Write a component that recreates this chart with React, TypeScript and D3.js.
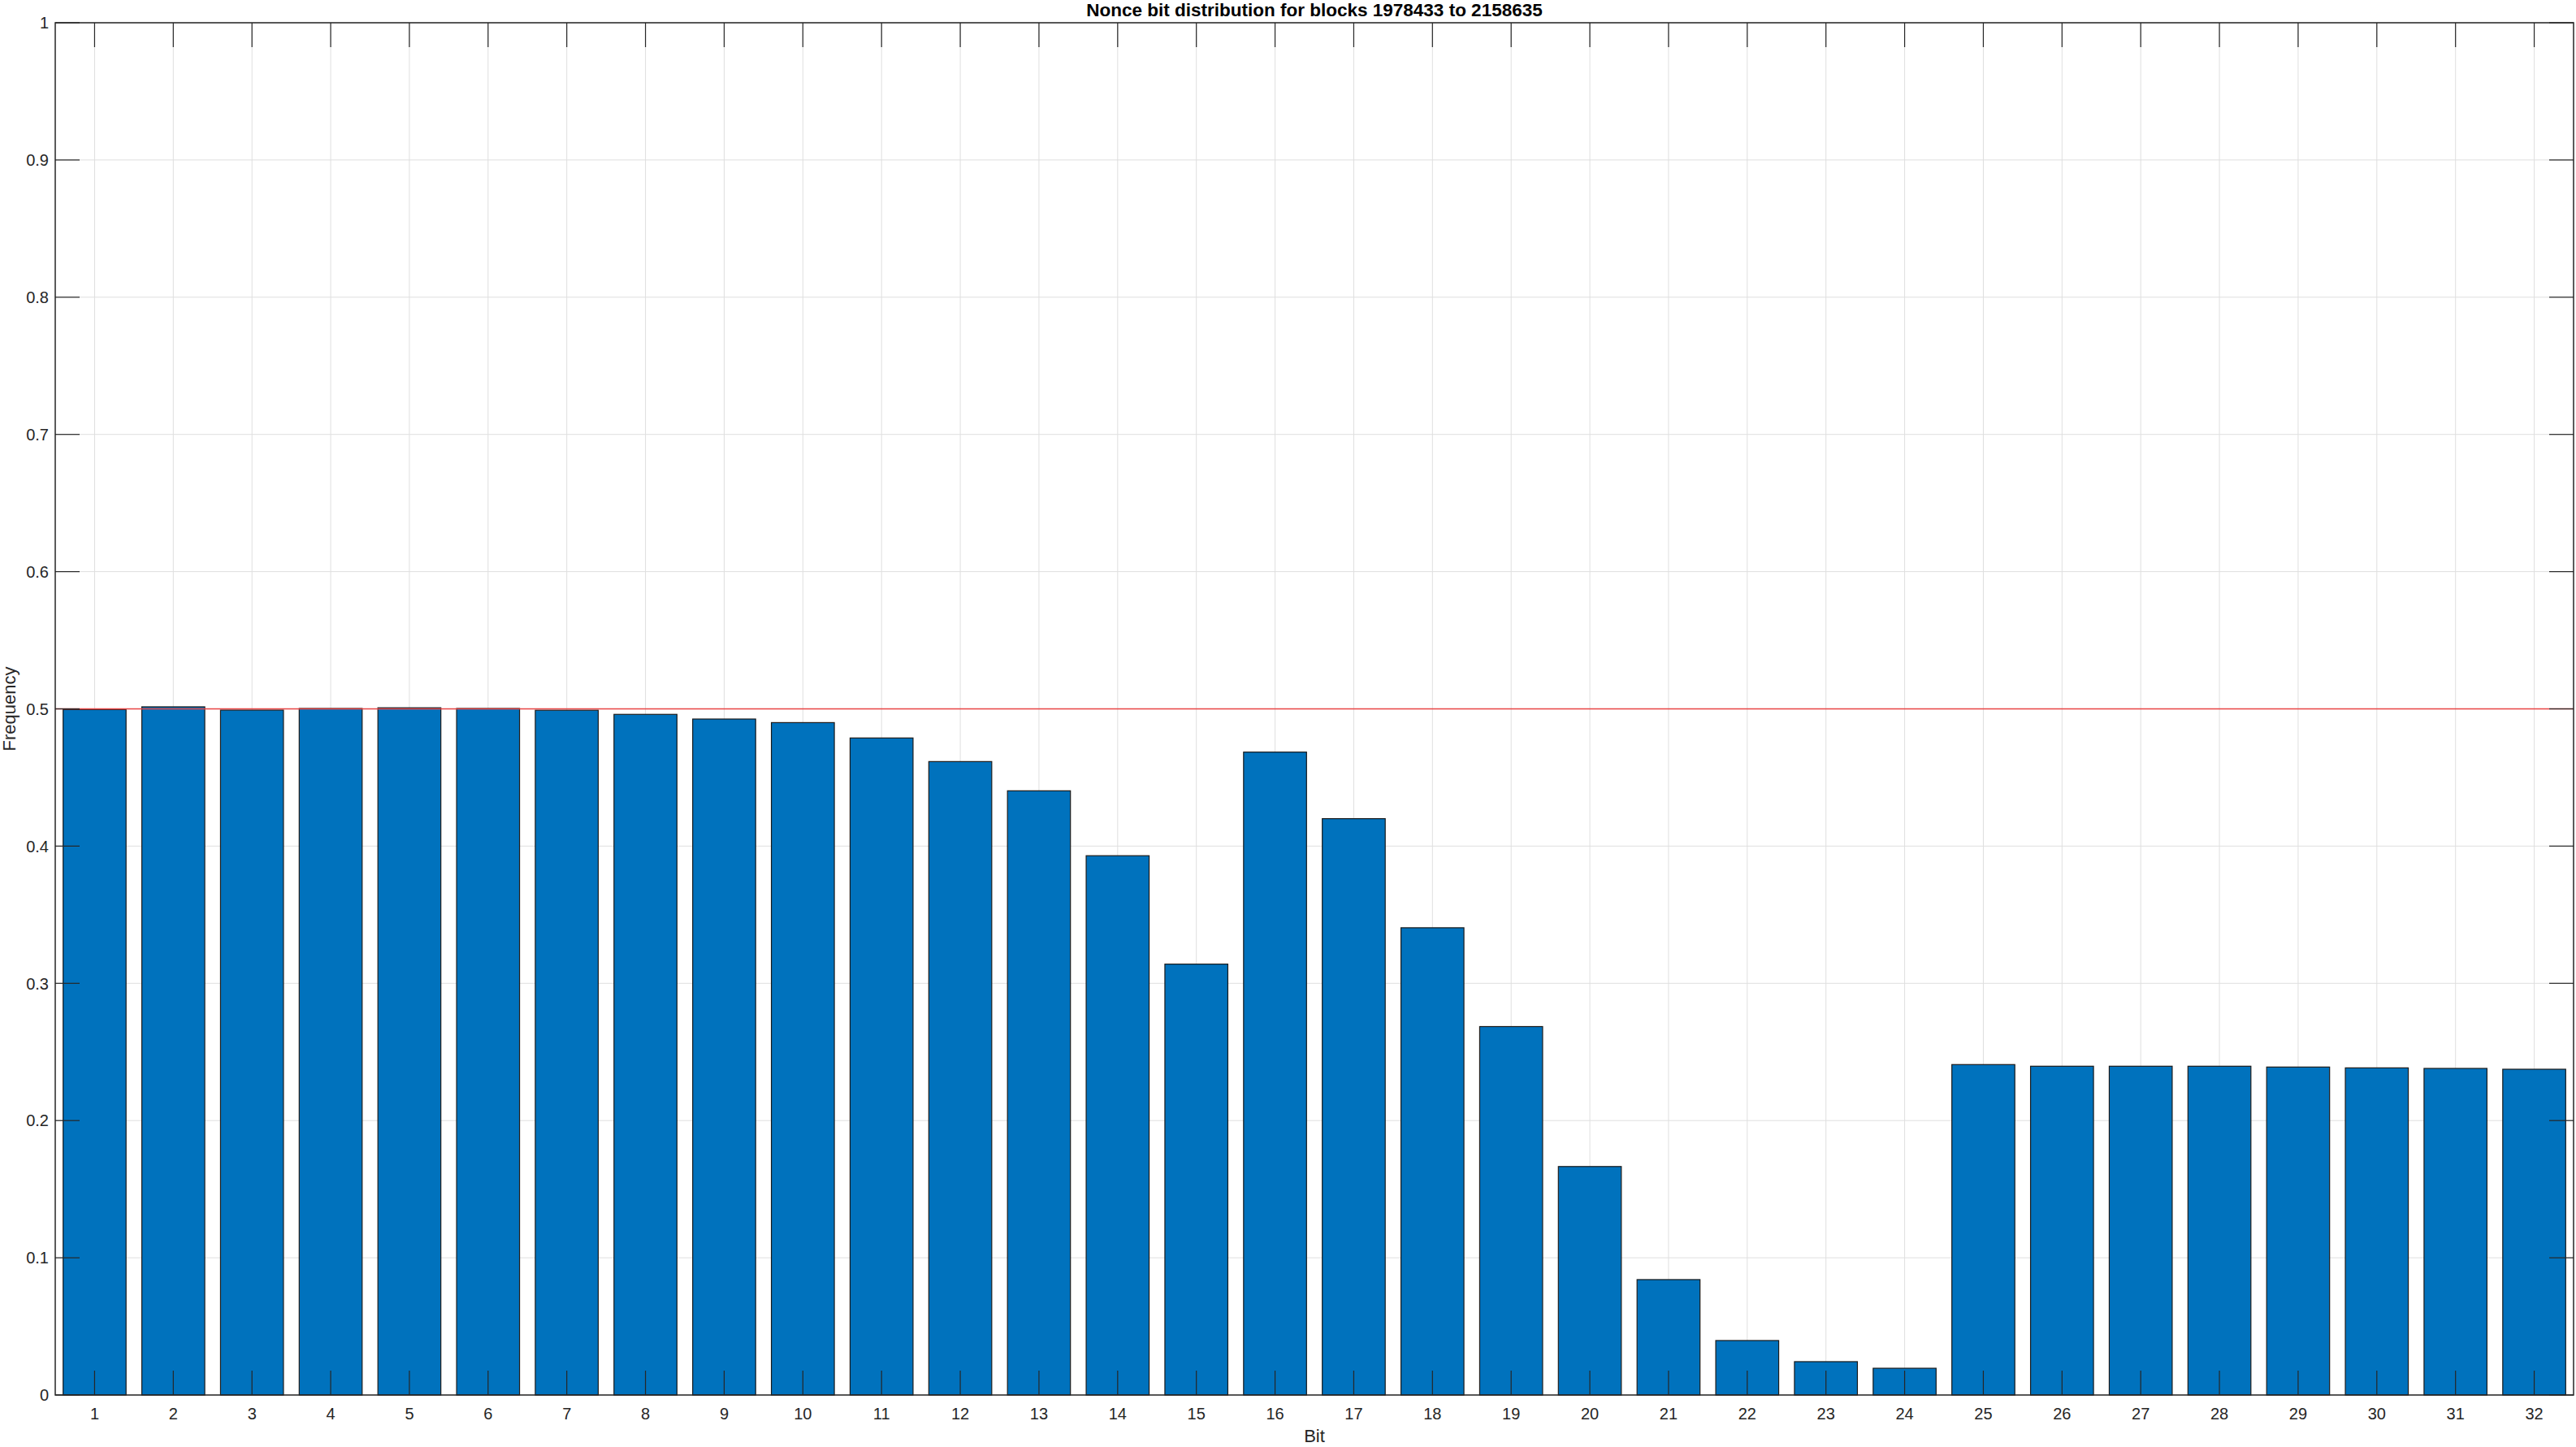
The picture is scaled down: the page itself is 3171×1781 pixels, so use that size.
import React from "react";
import * as d3 from "d3";

const bits: number[] = Array.from({ length: 32 }, (_, i) => i + 1);
const frequency: number[] = [
  0.4995, 0.5015, 0.4991, 0.5003, 0.5008, 0.5003, 0.4990, 0.4960,
  0.4926, 0.4900, 0.4788, 0.4616, 0.4403, 0.3930, 0.3140, 0.4685,
  0.4200, 0.3405, 0.2685, 0.1665, 0.0841, 0.0397, 0.0243, 0.0195,
  0.2408, 0.2396, 0.2396, 0.2396, 0.2390, 0.2384, 0.2380, 0.2374,
];
const yTicks: number[] = [0, 0.1, 0.2, 0.3, 0.4, 0.5, 0.6, 0.7, 0.8, 0.9, 1];
const yTickLabels: string[] = ["0", "0.1", "0.2", "0.3", "0.4", "0.5", "0.6", "0.7", "0.8", "0.9", "1"];
const referenceLevel = 0.5;
const titleText = "Nonce bit distribution for blocks 1978433 to 2158635";
const xLabel = "Bit";
const yLabel = "Frequency";

const W = 3171;
const H = 1781;
const L = 68, R = 3168, T = 28, B = 1717;
const FONT = "'Liberation Sans', Arial, Helvetica, sans-serif";
const AX = "#262626";
const GRID = "#dfdfdf";
const TICK = 30;

export default function App() {
  const x = d3.scaleLinear().domain([0.5, 32.5]).range([L, R]);
  const y = d3.scaleLinear().domain([0, 1]).range([B, T]);
  const bw = x(1.8) - x(1);
  return (
    <svg width={W} height={H} style={{ position: "absolute", left: 0, top: 0, background: "#fff" }}
      fontFamily={FONT}>
      <rect x={0} y={0} width={W} height={H} fill="#fff" />
      {bits.map((b) => (
        <line key={"gx" + b} x1={x(b)} x2={x(b)} y1={T} y2={B} stroke={GRID} strokeWidth={1} />
      ))}
      {yTicks.map((t) => (
        <line key={"gy" + t} x1={L} x2={R} y1={y(t)} y2={y(t)} stroke={GRID} strokeWidth={1} />
      ))}
      {bits.map((b, i) => (
        <rect key={"bar" + b} x={x(b) - bw / 2} y={y(frequency[i])} width={bw}
          height={y(0) - y(frequency[i])} fill="#0072BD" stroke="#1a1a1a" strokeWidth={1.2} />
      ))}
      <line x1={L} x2={R} y1={y(referenceLevel)} y2={y(referenceLevel)} stroke="#e84444" strokeWidth={1.7} />
      {bits.map((b) => (
        <g key={"tx" + b}>
          <line x1={x(b)} x2={x(b)} y1={B} y2={B - TICK} stroke={AX} strokeWidth={1.2} />
          <line x1={x(b)} x2={x(b)} y1={T} y2={T + TICK} stroke={AX} strokeWidth={1.2} />
          <text x={x(b)} y={1747} fontSize={20} fill={AX} textAnchor="middle">{b}</text>
        </g>
      ))}
      {yTicks.map((t, i) => (
        <g key={"ty" + t}>
          <line x1={L} x2={L + TICK} y1={y(t)} y2={y(t)} stroke={AX} strokeWidth={1.2} />
          <line x1={R} x2={R - TICK} y1={y(t)} y2={y(t)} stroke={AX} strokeWidth={1.2} />
          <text x={60} y={y(t)} dy="0.36em" fontSize={20} fill={AX} textAnchor="end">{yTickLabels[i]}</text>
        </g>
      ))}
      <rect x={L} y={T} width={R - L} height={B - T} fill="none" stroke={AX} strokeWidth={1.5} />
      <text x={(L + R) / 2} y={1775} fontSize={22} fill={AX} textAnchor="middle">{xLabel}</text>
      <text transform={`translate(19,${(T + B) / 2}) rotate(-90)`} fontSize={22} fill={AX} textAnchor="middle">{yLabel}</text>
      <text x={(L + R) / 2} y={20} fontSize={22.5} fontWeight="bold" fill="#000" textAnchor="middle">{titleText}</text>
    </svg>
  );
}
